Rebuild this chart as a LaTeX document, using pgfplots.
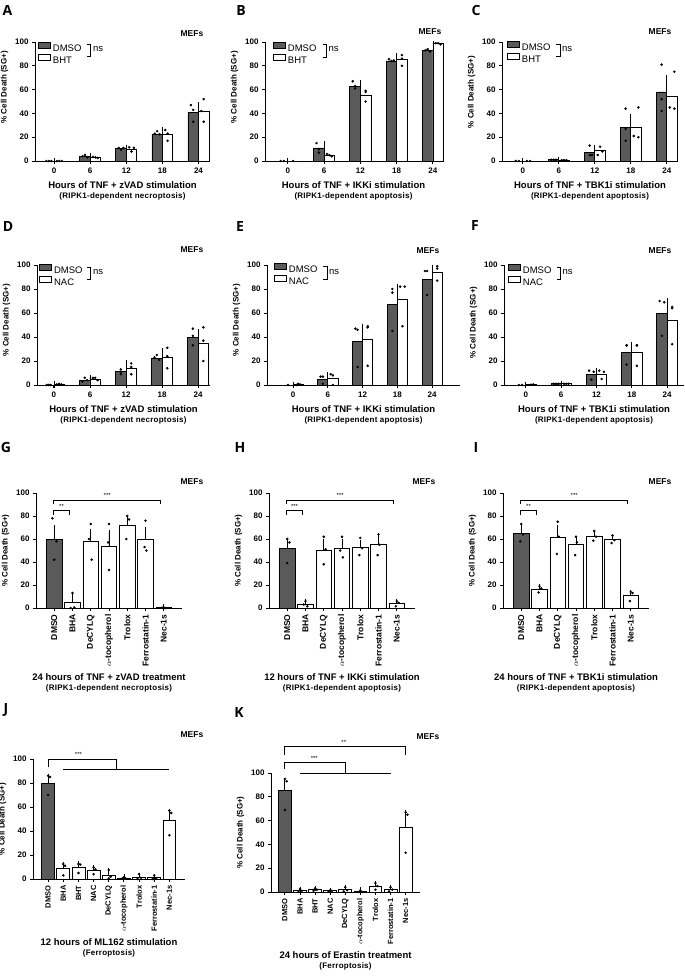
\documentclass[border=0pt]{standalone}
\usepackage{fontspec}
\setmainfont{Liberation Sans}
\newfontfamily\lettf{Open Sans}
\usepackage{pgfplots}
\pgfplotsset{compat=1.18}
\definecolor{dmso}{RGB}{90,90,90}
\newcommand\subf{\fontsize{8}{9}\selectfont\bfseries\addfontfeature{LetterSpace=3}}
\pgfplotsset{
  base/.style={
    scale only axis, clip=false, anchor=south west,
    axis x line=bottom, axis y line=left,
    axis line style={-, line width=0.9pt},
    ymin=0, ymax=100, ytick={0,20,...,100},
    tick align=outside, major tick length=3pt,
    every tick/.style={black, line width=0.9pt},
    tick label style={font=\fontsize{8}{8}\selectfont\bfseries},
    /pgf/number format/assume math mode=true,
    ylabel={\% Cell Death (SG+)},
    ylabel style={font=\fontsize{8}{9}\selectfont\bfseries},
    xlabel style={font=\fontsize{9.5}{10}\selectfont\bfseries, align=center},
    legend style={draw=none, fill=none, inner sep=0pt, row sep=2.2pt, column sep=2.5pt,
      nodes={inner sep=0pt, text height=6.6pt, text depth=0pt},
      font=\fontsize{9.5}{9.5}\selectfont, anchor=north west},
    legend cell align=left,
  },
  grp/.style={base, height=119pt, xtick={0,...,4}, xticklabels={0,6,12,18,24},
    xlabel style={yshift=-1.5pt}},
  cat/.style={base, xtick={0,...,#1}, xticklabel style={rotate=90, anchor=east}},
  ebar/.style={
    /pgfplots/error bars/y dir=plus, /pgfplots/error bars/y explicit,
    /pgfplots/error bars/error mark=-,
    /pgfplots/error bars/error bar style={line width=0.8pt, black},
    /pgfplots/error bars/error mark options={mark size=2.6pt, line width=0.8pt, black}},
  dbar/.style={ybar, bar width=#1, fill=dmso, draw=black, line width=0.8pt, ebar,
    legend image code/.code={\draw[fill=dmso, draw=black, line width=0.8pt] (0pt,0pt) rectangle (11.5pt,6pt);}},
  wbar/.style={ybar, bar width=#1, fill=white, draw=black, line width=0.8pt, ebar,
    legend image code/.code={\draw[fill=white, draw=black, line width=0.8pt] (0pt,0pt) rectangle (11.5pt,6pt);}},
  dots/.style={only marks, mark=*, mark size=1.05pt, black},
}
\tikzset{
  mef/.style={font=\fontsize{8.5}{9}\selectfont\bfseries},
  plet/.style={font=\lettf\fontsize{14}{14}\selectfont\bfseries},
  sig/.style={font=\fontsize{6}{6}\selectfont},
  ns/.style={font=\fontsize{9.5}{9.5}\selectfont, anchor=west, inner sep=0pt},
  brk/.style={line width=0.7pt},
}
\begin{document}
\begin{tikzpicture}
\useasboundingbox (0pt,0pt) rectangle (685pt,-978pt);

% ---------------- A ----------------
\begin{axis}[grp, at={(35pt,-161pt)}, width=175pt, xmin=-0.53, xmax=4.32,
  xlabel={Hours of TNF + zVAD stimulation\\{\subf (RIPK1-dependent necroptosis)}},
  legend style={at={(axis description cs:0.017,1.0)}},
  ylabel style={at={(ticklabel cs:0.62)}}]
\addplot[dbar=0.29, bar shift=-0.145] coordinates {(0,0) +- (0,0) (1,3.5) +- (0,1.2) (2,10.5) +- (0,1) (3,22.5) +- (0,1.5) (4,41) +- (0,3.5)};
\addlegendentry{DMSO}
\addplot[wbar=0.29, bar shift=0.145] coordinates {(0,0) +- (0,0) (1,3) +- (0,0.6) (2,10) +- (0,1.5) (3,22) +- (0,4) (4,42) +- (0,5.5)};
\addlegendentry{BHT}
\addplot[dots] coordinates {(-0.215,0) (-0.145,0) (-0.075,0) (0.79,4) (0.855,5) (0.92,3) (1.79,11) (1.855,9.5) (1.92,11) (2.79,23) (2.855,25) (2.92,22.5) (3.79,47) (3.855,43) (3.855,33)};
\addplot[dots] coordinates {(0.075,0) (0.145,0) (0.215,0) (1.08,3.5) (1.145,3) (1.21,2.5) (2.08,11.5) (2.145,8) (2.21,11) (3.08,26) (3.145,17) (3.145,23) (4.08,42) (4.145,52) (4.145,33)};
\end{axis}
\draw[brk] (87pt,-44pt) -- (90.7pt,-44pt) -- (90.7pt,-56pt) -- (87pt,-56pt);
\node[ns] at (93pt,-49pt) {ns};

% ---------------- B ----------------
\begin{axis}[grp, at={(265pt,-161pt)}, width=177pt, xmin=-0.63, xmax=4.25,
  xlabel={Hours of TNF + IKKi stimulation\\{\subf (RIPK1-dependent apoptosis)}},
  legend style={at={(axis description cs:0.045,1.0)}},
  ylabel style={at={(ticklabel cs:0.62)}}]
\addplot[dbar=0.29, bar shift=-0.145] coordinates {(0,0) +- (0,0) (1,11) +- (0,3.5) (2,63) +- (0,2.5) (3,84) +- (0,1) (4,93) +- (0,1)};
\addlegendentry{DMSO}
\addplot[wbar=0.29, bar shift=0.145] coordinates {(0,0) +- (0,0) (1,5) +- (0,1) (2,55.5) +- (0,3.5) (3,85) +- (0,3.5) (4,98.5) +- (0,0.5)};
\addlegendentry{BHT}
\addplot[dots] coordinates {(-0.2,0) (-0.11,0) (0.79,15) (0.855,10) (0.855,7) (1.79,67) (1.855,61) (1.855,63) (2.79,85.5) (2.855,84) (2.92,84.5) (3.79,93) (3.855,94) (3.92,92)};
\addplot[dots] coordinates {(0.145,0) (1.08,6) (1.145,5) (1.21,4) (2.145,59) (2.145,58) (2.145,50) (3.145,89) (3.145,86) (3.145,80) (4.08,99) (4.145,99) (4.21,98)};
\end{axis}
\draw[brk] (322.7pt,-44pt) -- (326.7pt,-44pt) -- (326.7pt,-57pt) -- (322.7pt,-57pt);
\node[ns] at (328.5pt,-49pt) {ns};

% ---------------- C ----------------
\begin{axis}[grp, at={(502pt,-161pt)}, width=176pt, xmin=-0.58, xmax=4.31,
  xlabel={Hours of TNF + TBK1i stimulation\\{\subf (RIPK1-dependent apoptosis)}},
  legend style={at={(axis description cs:0.028,1.01)}},
  ylabel style={at={(ticklabel cs:0.58)}}]
\addplot[dbar=0.29, bar shift=-0.145] coordinates {(0,0) +- (0,0) (1,1) +- (0,0.3) (2,7.5) +- (0,3) (3,28) +- (0,8) (4,58) +- (0,12)};
\addlegendentry{DMSO}
\addplot[wbar=0.29, bar shift=0.145] coordinates {(0,0) +- (0,0) (1,0.7) +- (0,0.3) (2,8.5) +- (0,3) (3,28.5) +- (0,8.5) (4,54.5) +- (0,10)};
\addlegendentry{BHT}
\addplot[dots] coordinates {(-0.2,0) (-0.11,0) (0.79,1) (0.855,1) (0.92,1) (1.855,13) (1.855,5) (1.92,5) (2.855,44) (2.855,27) (2.855,17) (3.855,81) (3.855,52) (3.855,42)};
\addplot[dots] coordinates {(0.11,0) (0.2,0) (1.08,0.7) (1.145,0.7) (1.21,0.7) (2.145,12) (2.08,5) (2.21,8) (3.21,45) (3.08,21) (3.21,20) (4.21,75) (4.08,45) (4.21,44)};
\end{axis}
\draw[brk] (556pt,-44pt) -- (560pt,-44pt) -- (560pt,-56pt) -- (556pt,-56pt);
\node[ns] at (562pt,-49pt) {ns};

% ---------------- D ----------------
\begin{axis}[grp, at={(37pt,-385pt)}, height=120pt, width=173pt, xmin=-0.47, xmax=4.33,
  xlabel={Hours of TNF + zVAD stimulation\\{\subf (RIPK1-dependent necroptosis)}},
  legend style={at={(axis description cs:0.012,1.01)}},
  ylabel style={at={(ticklabel cs:0.54)}}]
\addplot[dbar=0.29, bar shift=-0.145] coordinates {(0,0) +- (0,0) (1,4) +- (0,2) (2,11) +- (0,2) (3,22.5) +- (0,1.5) (4,40) +- (0,4.5)};
\addlegendentry{DMSO}
\addplot[wbar=0.29, bar shift=0.145] coordinates {(0,0.5) +- (0,0.3) (1,5) +- (0,1.5) (2,14) +- (0,4.5) (3,23) +- (0,5.5) (4,35) +- (0,8)};
\addlegendentry{NAC}
\addplot[dots] coordinates {(-0.2,0) (-0.145,0) (-0.09,0) (0.855,6) (0.79,3) (0.92,4) (1.855,13) (1.855,11) (1.855,9) (2.79,23) (2.855,25) (2.92,21) (3.855,47) (3.855,41) (3.855,33)};
\addplot[dots] coordinates {(0.08,0.5) (0.145,1) (0.21,0.5) (1.08,6) (1.145,6) (1.21,4) (2.145,18) (2.145,15) (2.145,9) (3.145,31) (3.145,24) (3.145,14) (4.145,48) (4.145,37) (4.145,20)};
\end{axis}
\draw[brk] (87pt,-267pt) -- (90.7pt,-267pt) -- (90.7pt,-279pt) -- (87pt,-279pt);
\node[ns] at (93pt,-272pt) {ns};

% ---------------- E ----------------
\begin{axis}[grp, at={(267pt,-385pt)}, height=120pt, width=193pt, xmin=-0.75, xmax=4.8,
  xlabel={Hours of TNF + IKKi stimulation\\{\subf (RIPK1-dependent apoptosis)}},
  legend style={at={(axis description cs:0.036,1.017)}},
  ylabel style={at={(ticklabel cs:0.54)}}]
\addplot[dbar=0.29, bar shift=-0.145] coordinates {(0,0) +- (0,0) (1,5) +- (0,2) (2,36) +- (0,11) (3,67) +- (0,10.5) (4,88) +- (0,6.5)};
\addlegendentry{DMSO}
\addplot[wbar=0.29, bar shift=0.145] coordinates {(0,0.5) +- (0,0.2) (1,5.5) +- (0,3) (2,38) +- (0,11) (3,71) +- (0,11) (4,94) +- (0,4)};
\addlegendentry{NAC}
\addplot[dots] coordinates {(-0.145,0) (0.79,7) (0.855,7) (0.855,1) (1.79,47) (1.855,46) (1.855,15) (2.855,80) (2.855,77) (2.855,45) (3.79,95) (3.855,95) (3.855,75)};
\addplot[dots] coordinates {(0.1,0) (0.145,1) (0.2,0.5) (1.08,9) (1.145,8) (1.145,0) (2.145,49) (2.145,48) (2.145,16) (3.08,82) (3.21,82) (3.145,49) (4.145,99) (4.145,97) (4.145,87)};
\end{axis}
\draw[brk] (323pt,-266pt) -- (327pt,-266pt) -- (327pt,-279pt) -- (323pt,-279pt);
\node[ns] at (329pt,-272pt) {ns};

% ---------------- F ----------------
\begin{axis}[grp, at={(504pt,-385pt)}, height=120pt, width=180pt, xmin=-0.62, xmax=4.48,
  xlabel={Hours of TNF + TBK1i stimulation\\{\subf (RIPK1-dependent apoptosis)}},
  legend style={at={(axis description cs:0.022,1.01)}},
  ylabel style={at={(ticklabel cs:0.52)}}]
\addplot[dbar=0.29, bar shift=-0.145] coordinates {(0,0) +- (0,0) (1,1) +- (0,0.5) (2,8.5) +- (0,3) (3,27.5) +- (0,6) (4,60) +- (0,10)};
\addlegendentry{DMSO}
\addplot[wbar=0.29, bar shift=0.145] coordinates {(0,0.3) +- (0,0.2) (1,1) +- (0,0.5) (2,9) +- (0,3) (3,27) +- (0,6) (4,54) +- (0,11)};
\addlegendentry{NAC}
\addplot[dots] coordinates {(-0.2,0) (-0.11,0) (0.79,1) (0.855,1) (0.92,1) (1.79,12) (1.92,11) (1.855,4.5) (2.855,33) (2.855,33) (2.855,17) (3.79,70) (3.92,69) (3.855,41)};
\addplot[dots] coordinates {(0.145,0.3) (0.21,0.5) (1.08,1) (1.145,1) (1.21,1) (2.08,12) (2.21,11) (2.145,5) (3.145,33) (3.145,33) (3.145,16) (4.145,65) (4.145,64) (4.145,34)};
\end{axis}
\draw[brk] (557pt,-267pt) -- (560.5pt,-267pt) -- (560.5pt,-279pt) -- (557pt,-279pt);
\node[ns] at (562.5pt,-272pt) {ns};

% ---------------- G ----------------
\begin{axis}[cat=6, at={(36pt,-608pt)}, width=146pt, height=115pt, xmin=-1, xmax=7,
  xticklabels={DMSO,BHA,DeCYLQ,$\alpha$-tocopherol,Trolox,Ferrostatin-1,Nec-1s},
  xticklabel style={font=\fontsize{8.5}{9}\selectfont\bfseries},
  xlabel={24 hours of TNF + zVAD treatment\\{\subf (RIPK1-dependent necroptosis)}}]
\addplot[dbar=0.85] coordinates {(0,59.5) +- (0,10.5)};
\addplot[wbar=0.85] coordinates {(1,4.5) +- (0,6.5) (2,58) +- (0,8.5) (3,54) +- (0,12) (4,71.5) +- (0,6.5) (5,59.5) +- (0,8.5) (6,0.3) +- (0,0.8)};
\addplot[dots] coordinates {(-0.1,78) (0.12,58) (0,42) (1,13) (1.1,0.5) (0.9,0) (2,73) (1.9,60) (2.05,42) (3,73) (2.95,57) (3,33) (4,80) (4.1,77) (3.95,60) (5,76) (4.95,53) (5.05,50) (6,0.5) (5.9,0.3) (6.1,0)};
\draw[brk] (axis cs:-0.05,80.5) -- (axis cs:-0.05,85) -- (axis cs:0.85,85) -- (axis cs:0.85,80.5);
\node[sig] at (axis cs:0.4,88.5) {**};
\draw[brk] (axis cs:-0.05,90.7) -- (axis cs:-0.05,94) -- (axis cs:5.8,94) -- (axis cs:5.8,90.7);
\node[sig] at (axis cs:2.9,97.5) {***};
\end{axis}

% ---------------- H ----------------
\begin{axis}[cat=6, at={(269pt,-608pt)}, width=146pt, height=115pt, xmin=-1, xmax=7,
  xticklabels={DMSO,BHA,DeCYLQ,$\alpha$-tocopherol,Trolox,Ferrostatin-1,Nec-1s},
  xticklabel style={font=\fontsize{8.5}{9}\selectfont\bfseries},
  xlabel={12 hours of TNF + IKKi stimulation\\{\subf (RIPK1-dependent apoptosis)}}]
\addplot[dbar=0.85] coordinates {(0,52) +- (0,7)};
\addplot[wbar=0.85] coordinates {(1,3.5) +- (0,2.5) (2,50.5) +- (0,7) (3,52) +- (0,6) (4,53) +- (0,4) (5,55) +- (0,6) (6,4) +- (0,2)};
\addplot[dots] coordinates {(0,60) (0.12,57) (0,39) (1,6) (0.9,3) (1.1,1.5) (2,62) (2.1,51) (2,38) (3,62) (2.9,50) (3.05,44) (4,61) (4.1,52) (3.95,46) (5,64) (5.05,55) (4.95,46) (6,6) (6.1,4.5) (5.95,1.5)};
\draw[brk] (axis cs:-0.05,80.5) -- (axis cs:-0.05,85) -- (axis cs:0.85,85) -- (axis cs:0.85,80.5);
\node[sig] at (axis cs:0.4,88.5) {***};
\draw[brk] (axis cs:-0.05,90.7) -- (axis cs:-0.05,94) -- (axis cs:5.8,94) -- (axis cs:5.8,90.7);
\node[sig] at (axis cs:2.9,97.5) {***};
\end{axis}

% ---------------- I ----------------
\begin{axis}[cat=6, at={(503pt,-608pt)}, width=146pt, height=115pt, xmin=-1, xmax=7,
  xticklabels={DMSO,BHA,DeCYLQ,$\alpha$-tocopherol,Trolox,Ferrostatin-1,Nec-1s},
  xticklabel style={font=\fontsize{8.5}{9}\selectfont\bfseries},
  xlabel={24 hours of TNF + TBK1i stimulation\\{\subf (RIPK1-dependent apoptosis)}}]
\addplot[dbar=0.85] coordinates {(0,65) +- (0,5)};
\addplot[wbar=0.85] coordinates {(1,16.5) +- (0,2.5) (2,61.5) +- (0,8.5) (3,55) +- (0,4.5) (4,62.5) +- (0,3) (5,59.5) +- (0,2.5) (6,11) +- (0,2.5)};
\addplot[dots] coordinates {(0,73) (0.1,64) (-0.05,58) (1,19) (1.1,17) (0.95,13.5) (2,75) (2.05,62) (1.95,47) (3,62) (3.05,57) (2.95,46) (4,67) (4.1,62) (3.95,58.5) (5,63) (5.1,59) (4.95,56.5) (6,14) (6.1,13) (5.95,6)};
\draw[brk] (axis cs:-0.05,80.5) -- (axis cs:-0.05,85) -- (axis cs:0.85,85) -- (axis cs:0.85,80.5);
\node[sig] at (axis cs:0.4,88.5) {**};
\draw[brk] (axis cs:-0.05,90.7) -- (axis cs:-0.05,94) -- (axis cs:5.8,94) -- (axis cs:5.8,90.7);
\node[sig] at (axis cs:2.9,97.5) {***};
\end{axis}

% ---------------- J ----------------
\begin{axis}[cat=8, at={(33pt,-879pt)}, width=152pt, height=120pt, xmin=-1, xmax=9.03,
  xticklabels={DMSO,BHA,BHT,NAC,DeCYLQ,$\alpha$-tocopherol,Trolox,Ferrostatin-1,Nec-1s},
  xticklabel style={font=\fontsize{7.5}{8}\selectfont\bfseries},
  xlabel={12 hours of ML162 stimulation\\{\subf (Ferroptosis)}}]
\addplot[dbar=0.85] coordinates {(0,80) +- (0,5.5)};
\addplot[wbar=0.85] coordinates {(1,8.6) +- (0,3.5) (2,9.7) +- (0,2.8) (3,7) +- (0,2.5) (4,3.3) +- (0,3.5) (5,0.8) +- (0,0.8) (6,1.7) +- (0,1.5) (7,1.1) +- (0,1.3) (8,49) +- (0,7)};
\addplot[dots] coordinates {(0,86) (0.12,85) (0,70) (1,12.5) (1.12,11) (1,3) (2,12.5) (2.12,12) (2,5) (3,9.7) (3.12,8) (3,4) (4,7.5) (4.12,2) (4,0.5) (5,1.5) (5.12,0.5) (4.9,0.5) (6,4) (6.12,1) (5.9,0) (7,3) (7.12,0.5) (6.9,0) (8,57) (8.12,55) (8,36.5)};
\draw[brk] (axis cs:0,93) -- (axis cs:0,100) -- (axis cs:4.5,100) -- (axis cs:4.5,91);
\draw[brk] (axis cs:1,91) -- (axis cs:8,91);
\node[sig] at (axis cs:2,103.5) {***};
\end{axis}

% ---------------- K ----------------
\begin{axis}[cat=8, at={(271pt,-892pt)}, width=149pt, height=119pt, xmin=-0.92, xmax=8.95,
  xticklabels={DMSO,BHA,BHT,NAC,DeCYLQ,$\alpha$-tocopherol,Trolox,Ferrostatin-1,Nec-1s},
  xticklabel style={font=\fontsize{7.5}{8}\selectfont\bfseries},
  xlabel={24 hours of Erastin treatment\\{\subf (Ferroptosis)}}]
\addplot[dbar=0.85] coordinates {(0,85.5) +- (0,8.5)};
\addplot[wbar=0.85] coordinates {(1,1.2) +- (0,1.2) (2,2) +- (0,0.8) (3,1) +- (0,0.5) (4,2) +- (0,1.8) (5,0.5) +- (0,1.5) (6,4.8) +- (0,2.2) (7,2.2) +- (0,1.8) (8,54.7) +- (0,12)};
\addplot[dots] coordinates {(0,95) (0.12,93) (0,69) (1,2.5) (1.12,1) (0.9,0) (2,3) (2.12,2) (1.9,1) (3,1.5) (3.12,1) (2.9,0.5) (4,4) (4.12,1.5) (3.9,0.5) (5,1.5) (5.12,0) (4.9,0) (6,7.5) (6.12,5) (6,2) (7,4) (7.12,2) (6.9,0.5) (8,67) (8.12,65) (8,33)};
\draw[brk] (axis cs:-0.05,114.8) -- (axis cs:-0.05,122.4) -- (axis cs:8,122.4) -- (axis cs:8,114.8);
\node[sig] at (axis cs:3.9,126) {**};
\draw[brk] (axis cs:-0.05,103.4) -- (axis cs:-0.05,109) -- (axis cs:4,109) -- (axis cs:4,100);
\draw[brk] (axis cs:1,100) -- (axis cs:7,100);
\node[sig] at (axis cs:1.95,112.6) {***};
\end{axis}

% ---------------- panel letters and MEFs ----------------
\node[plet] at (7.5pt,-10pt) {A};
\node[plet] at (241pt,-10pt) {B};
\node[plet] at (476pt,-10pt) {C};
\node[plet] at (8pt,-226pt) {D};
\node[plet] at (240pt,-226pt) {E};
\node[plet] at (475pt,-225pt) {F};
\node[plet] at (6pt,-447pt) {G};
\node[plet] at (240pt,-447pt) {H};
\node[plet] at (476pt,-447pt) {I};
\node[plet] at (6pt,-710pt) {J};
\node[plet] at (239pt,-712pt) {K};
\node[mef] at (192pt,-34pt) {MEFs};
\node[mef] at (430pt,-32pt) {MEFs};
\node[mef] at (660pt,-32pt) {MEFs};
\node[mef] at (192pt,-250pt) {MEFs};
\node[mef] at (428pt,-251pt) {MEFs};
\node[mef] at (660pt,-251pt) {MEFs};
\node[mef] at (192pt,-482pt) {MEFs};
\node[mef] at (424pt,-482pt) {MEFs};
\node[mef] at (660pt,-482pt) {MEFs};
\node[mef] at (192pt,-735pt) {MEFs};
\node[mef] at (428pt,-737pt) {MEFs};
\end{tikzpicture}
\end{document}
